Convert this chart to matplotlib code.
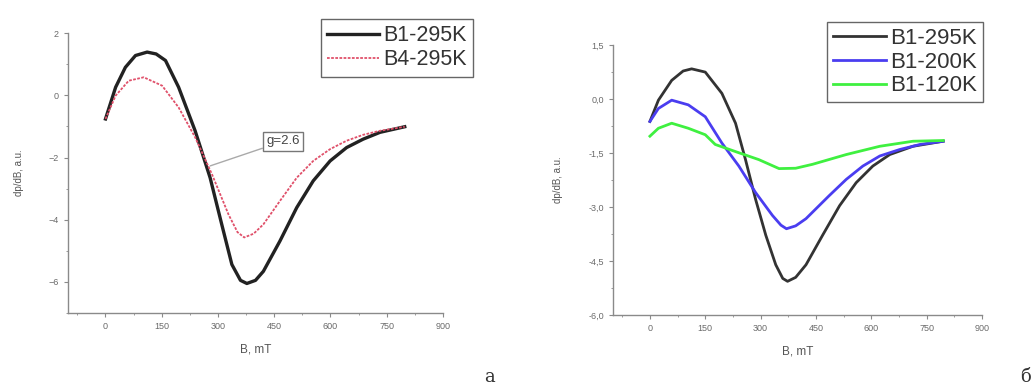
import numpy as np
import matplotlib
matplotlib.use('Agg')
import matplotlib.pyplot as plt
from matplotlib.ticker import MultipleLocator, FixedLocator

plt.rcParams['font.family'] = ['Liberation Sans', 'DejaVu Sans']

# Panel a: B1 vs B4 at 295 K
a_b1_x = [0, 27, 53, 80, 111, 135, 160, 195, 239, 279, 310, 337, 360, 377,
          400, 421, 465, 510, 554, 599, 643, 687, 732, 798]
a_b1_y = [-0.76, 0.26, 0.9, 1.28, 1.39, 1.33, 1.12, 0.26, -1.14, -2.65, -4.15,
          -5.44, -5.95, -6.05, -5.95, -5.66, -4.69, -3.61, -2.75, -2.11, -1.68,
          -1.41, -1.19, -1.01]
a_b4_x = [0, 27, 62, 102, 151, 195, 239, 284, 328, 352, 370, 395, 421, 465,
          510, 554, 599, 643, 687, 732, 798]
a_b4_y = [-0.76, -0.01, 0.47, 0.58, 0.31, -0.39, -1.35, -2.54, -3.83, -4.4,
          -4.57, -4.45, -4.15, -3.4, -2.65, -2.11, -1.73, -1.46, -1.27, -1.14,
          -1.01]

# Panel b: B1 at 295 K, 200 K, 120 K
b_295_x = [0, 23, 59, 90, 113, 150, 195, 232, 259, 286, 314, 341, 360, 373,
           395, 423, 468, 514, 559, 604, 650, 713, 795]
b_295_y = [-0.62, -0.03, 0.52, 0.78, 0.84, 0.75, 0.16, -0.67, -1.68, -2.77,
           -3.78, -4.6, -4.98, -5.06, -4.95, -4.6, -3.78, -2.96, -2.32, -1.86,
           -1.54, -1.31, -1.17]
b_200_x = [0, 23, 59, 104, 150, 195, 241, 286, 332, 355, 370, 395, 423, 486,
           532, 577, 623, 677, 732, 795]
b_200_y = [-0.62, -0.26, -0.03, -0.16, -0.49, -1.22, -1.86, -2.59, -3.23, -3.5,
           -3.6, -3.52, -3.32, -2.68, -2.23, -1.86, -1.58, -1.4, -1.26, -1.17]
b_120_x = [0, 23, 59, 104, 150, 177, 241, 295, 350, 395, 441, 532, 623, 713,
           795]
b_120_y = [-1.03, -0.81, -0.67, -0.81, -0.99, -1.26, -1.49, -1.68, -1.93, -1.92,
           -1.81, -1.54, -1.31, -1.17, -1.15]

x_ticks = [0, 150, 300, 450, 600, 750, 900]

fig = plt.figure(figsize=(10.35, 3.92), dpi=100)
ax1 = fig.add_axes([0.0657, 0.2015, 0.3623, 0.714])
ax2 = fig.add_axes([0.5923, 0.196, 0.3565, 0.689])

axis_col = '#8a8a8a'
text_col = '#6a6a6a'


def style(ax):
    for s in ['top', 'right']:
        ax.spines[s].set_visible(False)
    for s in ['left', 'bottom']:
        ax.spines[s].set_color(axis_col)
        ax.spines[s].set_linewidth(1.0)
    ax.set_xlim(-100, 900)
    ax.xaxis.set_major_locator(FixedLocator(x_ticks))
    ax.xaxis.set_minor_locator(MultipleLocator(75))
    ax.tick_params(which='both', colors=axis_col, labelcolor=text_col,
                   labelsize=6.5, direction='out')
    ax.tick_params(which='major', length=3)
    ax.tick_params(which='minor', length=1.5)
    ax.set_xlabel('B, mT', fontsize=8.5, color='#555555', labelpad=9)
    ax.set_ylabel('dp/dB, a.u.', fontsize=7, color='#555555', labelpad=18)


# panel a
ax1.plot(a_b1_x, a_b1_y, color='#222222', lw=2.4, label='B1-295K')
ax1.plot(a_b4_x, a_b4_y, color='#e0506a', lw=1.3, ls=(0, (1.5, 0.8)), label='B4-295K')
style(ax1)
ax1.set_ylim(-7, 2)
ax1.set_yticks([2, 0, -2, -4, -6])
ax1.yaxis.set_minor_locator(MultipleLocator(1))
ax1.annotate('g=2.6', xy=(279, -2.27), xytext=(473, -1.48),
             fontsize=9.5, color='#444444', ha='center', va='center',
             bbox=dict(boxstyle='square,pad=0.25', fc='white', ec='#777777', lw=1.0),
             arrowprops=dict(arrowstyle='-', color='#aaaaaa', lw=1.0,
                             shrinkA=0, shrinkB=0))
ax1.legend(loc='upper left', bbox_to_anchor=(0.645, 1.09), fontsize=15.5,
           frameon=True, fancybox=False, edgecolor='#666666', handlelength=2.4,
           borderpad=0.3, labelspacing=0.15, handletextpad=0.2,
           labelcolor='#333333', framealpha=1)

# panel b
ax2.plot(b_295_x, b_295_y, color='#333333', lw=2.0, label='B1-295K')
ax2.plot(b_200_x, b_200_y, color='#4a3df0', lw=2.0, label='B1-200K')
ax2.plot(b_120_x, b_120_y, color='#3ff040', lw=2.0, label='B1-120K')
style(ax2)
ax2.set_ylim(-6, 1.5)
ax2.set_yticks([1.5, 0, -1.5, -3, -4.5, -6])
ax2.set_yticklabels(['1,5', '0,0', '-1,5', '-3,0', '-4,5', '-6,0'])
ax2.yaxis.set_minor_locator(MultipleLocator(0.75))
ax2.legend(loc='upper left', bbox_to_anchor=(0.55, 1.125), fontsize=16,
           frameon=True, fancybox=False, edgecolor='#666666', handlelength=2.4,
           borderpad=0.25, labelspacing=0.12, handletextpad=0.2,
           labelcolor='#333333', framealpha=1)

fig.text(0.468, 0.025, 'а', fontsize=13, family='DejaVu Serif', color='#333333')
fig.text(0.986, 0.025, 'б', fontsize=13, family='DejaVu Serif', color='#333333')

fig.savefig('out.png', dpi=100)
